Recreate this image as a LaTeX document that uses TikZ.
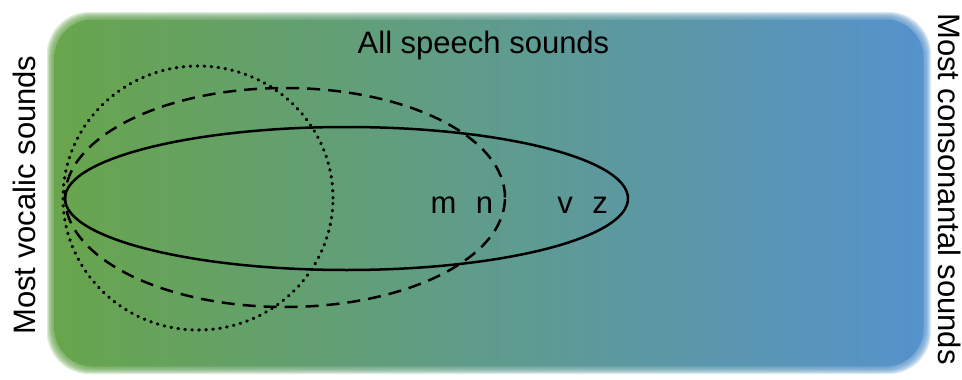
\documentclass[tikz,border=0pt]{standalone}
\usepackage{fontspec}
\setmainfont{Liberation Sans}
\definecolor{gl}{RGB}{104,165,76}
\definecolor{gm}{RGB}{100,161,168}
\definecolor{br}{RGB}{86,146,204}
\begin{document}
\begin{tikzpicture}[x=1pt,y=-1pt,
  lbl/.style={font=\fontsize{31}{31}\selectfont, inner sep=0pt, anchor=base},
  ring/.style={draw=black, line width=2.5pt},
  dashring/.style={ring, dash pattern=on 13pt off 8pt},
  dotring/.style={draw=black, line width=3.2pt, line cap=round, dash pattern=on 0.6pt off 6.4pt},
  boxfill/.style={left color=gl, middle color=gm, right color=br}]
\useasboundingbox (0,0) rectangle (962,380);
% soft-edged gradient box
\foreach \i in {0,...,7} {
  \shade[boxfill, rounded corners=42pt, opacity=0.2]
    (47+\i*0.9, 12+\i*0.9) rectangle (931-\i*0.9, 374-\i*0.9);
}
\shade[boxfill, rounded corners=38pt]
  (54.5,19.5) rectangle (923.5,366.5);
% ellipses
\draw[dotring] (198,198) ellipse [x radius=135pt, y radius=132pt];
\draw[dashring] (285,197.5) ellipse [x radius=220pt, y radius=109.5pt];
\draw[ring] (346.5,198.5) ellipse [x radius=281.5pt, y radius=71.5pt];
% labels
\node[lbl] (all) at (483.5,53) {All speech sounds};
\node[lbl] (m) at (443.5,213) {m};
\node[lbl] (n) at (484.5,213) {n};
\node[lbl] (v) at (565,213) {v};
\node[lbl] (z) at (600,213) {z};
\node[lbl, rotate=90] (voc) at (35,195) {Most vocalic sounds};
\node[lbl, rotate=-90] (cons) at (938,189) {Most consonantal sounds};
\end{tikzpicture}
\end{document}
